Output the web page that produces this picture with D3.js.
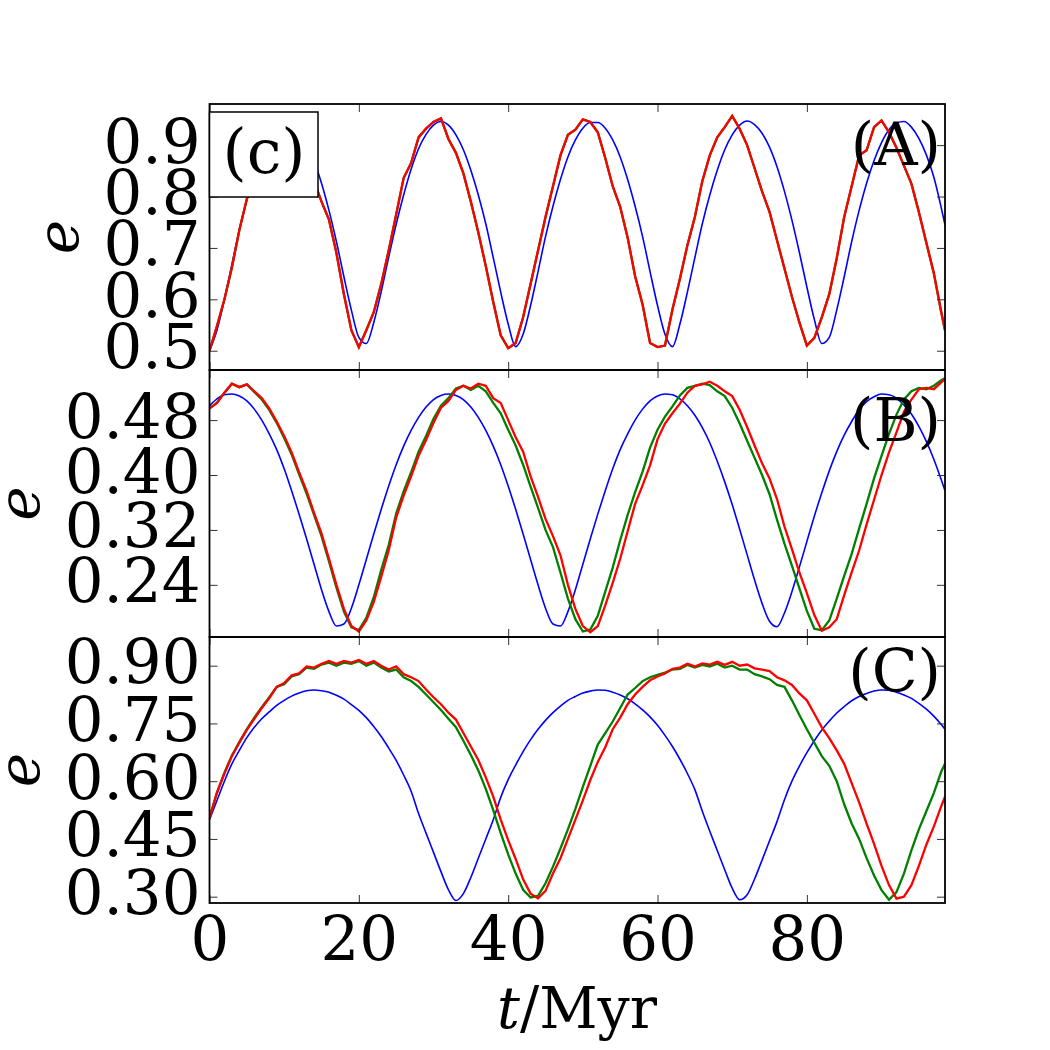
<!DOCTYPE html>
<html>
<head>
<meta charset="utf-8">
<script src="https://cdn.jsdelivr.net/npm/d3@7"></script>
<style>
  body { margin: 0; background: #fff; }
  svg { display: block; }
  text { font-family: "DejaVu Serif", serif; fill: #000; }
</style>
</head>
<body>
<svg id="chart" width="1050" height="1050"></svg>
<script>
// sampling grid (Myr) shared by every series
const timeMyr = d3.range(0, 99).concat([98.5]);
const xTicks = [0, 20, 40, 60, 80];

// panel (A)
const ticksA = [0.5, 0.6, 0.7, 0.8, 0.9];
const blueA = [
  0.500,0.540,0.600,0.668,0.735,0.793,0.843,0.885,0.916,0.937,
  0.946,0.943,0.930,0.905,0.870,0.826,0.773,0.712,0.644,0.579,
  0.526,0.514,0.555,0.615,0.682,0.746,0.803,0.853,0.893,0.921,
  0.939,0.946,0.939,0.920,0.891,0.851,0.803,0.747,0.681,0.614,
  0.552,0.508,0.532,0.588,0.654,0.722,0.781,0.833,0.877,0.910,
  0.933,0.944,0.944,0.933,0.910,0.877,0.833,0.781,0.722,0.654,
  0.588,0.532,0.508,0.552,0.614,0.681,0.747,0.803,0.851,0.891,
  0.920,0.939,0.947,0.940,0.923,0.896,0.858,0.810,0.754,0.691,
  0.624,0.561,0.514,0.526,0.579,0.644,0.712,0.773,0.826,0.870,
  0.905,0.930,0.943,0.946,0.935,0.913,0.881,0.838,0.778,0.745];
const redA = [
  0.500,0.548,0.600,0.662,0.735,0.795,0.845,0.885,0.915,0.935,
  0.950,0.945,0.920,0.880,0.830,0.790,0.755,0.690,0.610,0.540,
  0.507,0.540,0.575,0.630,0.695,0.765,0.836,0.865,0.915,0.932,
  0.945,0.952,0.912,0.885,0.845,0.790,0.730,0.665,0.595,0.530,
  0.505,0.515,0.565,0.630,0.695,0.760,0.820,0.880,0.920,0.930,
  0.950,0.945,0.925,0.875,0.820,0.780,0.720,0.645,0.590,0.515,
  0.507,0.510,0.580,0.640,0.705,0.760,0.830,0.880,0.915,0.935,
  0.957,0.932,0.900,0.855,0.810,0.770,0.715,0.660,0.605,0.555,
  0.510,0.525,0.565,0.610,0.680,0.760,0.820,0.880,0.890,0.935,
  0.948,0.925,0.895,0.860,0.825,0.770,0.710,0.651,0.575,0.540];
// green lies under red in (A)
const greenA = redA;

// panel (B)
const ticksB = [0.24, 0.32, 0.40, 0.48];
const blueB = [
  0.501,0.511,0.517,0.518,0.515,0.508,0.496,0.480,0.460,0.437,
  0.409,0.377,0.343,0.307,0.270,0.233,0.201,0.180,0.183,0.206,
  0.240,0.277,0.314,0.350,0.384,0.415,0.442,0.465,0.484,0.499,
  0.510,0.516,0.518,0.516,0.510,0.499,0.484,0.465,0.442,0.415,
  0.384,0.350,0.314,0.277,0.240,0.206,0.183,0.180,0.201,0.233,
  0.270,0.307,0.343,0.377,0.409,0.437,0.460,0.480,0.496,0.508,
  0.515,0.518,0.517,0.511,0.501,0.487,0.469,0.447,0.420,0.390,
  0.357,0.321,0.284,0.247,0.213,0.187,0.179,0.199,0.230,0.266,
  0.303,0.340,0.374,0.406,0.434,0.458,0.478,0.495,0.507,0.514,
  0.518,0.517,0.512,0.502,0.489,0.471,0.449,0.423,0.393,0.377];
const greenB = [
  0.497,0.505,0.520,0.533,0.528,0.532,0.521,0.510,0.495,0.476,
  0.454,0.430,0.401,0.373,0.342,0.311,0.274,0.236,0.201,0.178,
  0.174,0.192,0.222,0.262,0.298,0.344,0.376,0.404,0.434,0.457,
  0.482,0.501,0.512,0.526,0.530,0.524,0.530,0.522,0.505,0.490,
  0.466,0.443,0.415,0.383,0.352,0.320,0.295,0.258,0.220,0.190,
  0.172,0.175,0.195,0.230,0.265,0.305,0.342,0.375,0.405,0.440,
  0.466,0.485,0.500,0.516,0.527,0.530,0.533,0.531,0.522,0.515,
  0.498,0.475,0.450,0.425,0.400,0.372,0.335,0.300,0.268,0.235,
  0.202,0.176,0.174,0.188,0.220,0.253,0.285,0.322,0.358,0.395,
  0.428,0.460,0.488,0.510,0.522,0.527,0.525,0.530,0.538,0.541];
const redB = [
  0.497,0.505,0.520,0.533,0.528,0.532,0.522,0.512,0.497,0.478,
  0.457,0.433,0.404,0.377,0.345,0.315,0.278,0.240,0.205,0.180,
  0.172,0.188,0.215,0.252,0.290,0.338,0.370,0.398,0.428,0.451,
  0.476,0.498,0.508,0.524,0.530,0.526,0.533,0.530,0.512,0.505,
  0.480,0.455,0.434,0.398,0.368,0.336,0.311,0.283,0.240,0.205,
  0.180,0.171,0.180,0.210,0.243,0.278,0.318,0.358,0.385,0.414,
  0.452,0.475,0.490,0.504,0.520,0.530,0.532,0.536,0.530,0.522,
  0.515,0.495,0.470,0.443,0.417,0.395,0.365,0.325,0.292,0.258,
  0.228,0.196,0.173,0.178,0.190,0.225,0.258,0.290,0.328,0.364,
  0.400,0.433,0.462,0.492,0.510,0.525,0.527,0.525,0.535,0.540];

// panel (C)
const ticksC = [0.30, 0.45, 0.60, 0.75, 0.90];
const blueC = [
  0.500,0.550,0.600,0.645,0.680,0.713,0.740,0.762,0.780,0.797,
  0.810,0.821,0.829,0.835,0.837,0.835,0.831,0.823,0.813,0.799,
  0.784,0.765,0.742,0.716,0.686,0.654,0.616,0.574,0.516,0.465,
  0.415,0.365,0.318,0.290,0.308,0.350,0.400,0.450,0.500,0.558,
  0.604,0.642,0.677,0.708,0.735,0.758,0.778,0.795,0.810,0.820,
  0.829,0.834,0.837,0.836,0.831,0.824,0.814,0.801,0.785,0.767,
  0.745,0.719,0.690,0.657,0.620,0.578,0.522,0.470,0.420,0.370,
  0.322,0.292,0.305,0.346,0.395,0.445,0.495,0.552,0.600,0.639,
  0.674,0.705,0.733,0.756,0.777,0.794,0.809,0.820,0.828,0.834,
  0.837,0.836,0.831,0.824,0.815,0.802,0.787,0.769,0.747,0.735];
const greenC = [
  0.505,0.570,0.622,0.667,0.702,0.735,0.765,0.792,0.818,0.845,
  0.852,0.872,0.878,0.895,0.892,0.903,0.908,0.900,0.908,0.905,
  0.912,0.900,0.908,0.895,0.885,0.890,0.870,0.860,0.845,0.825,
  0.805,0.785,0.762,0.740,0.705,0.668,0.628,0.580,0.525,0.465,
  0.410,0.360,0.318,0.298,0.302,0.335,0.378,0.425,0.475,0.528,
  0.585,0.640,0.695,0.725,0.755,0.790,0.825,0.842,0.860,0.870,
  0.876,0.882,0.890,0.892,0.902,0.895,0.902,0.898,0.905,0.895,
  0.900,0.890,0.890,0.878,0.872,0.865,0.850,0.845,0.810,0.772,
  0.735,0.700,0.665,0.640,0.600,0.540,0.490,0.450,0.400,0.355,
  0.317,0.292,0.312,0.360,0.420,0.475,0.522,0.569,0.625,0.645];
const redC = [
  0.505,0.570,0.620,0.665,0.700,0.733,0.762,0.790,0.815,0.845,
  0.855,0.875,0.880,0.898,0.895,0.905,0.912,0.905,0.912,0.908,
  0.915,0.905,0.912,0.900,0.890,0.898,0.878,0.870,0.860,0.838,
  0.818,0.800,0.778,0.760,0.725,0.690,0.655,0.610,0.560,0.500,
  0.447,0.398,0.345,0.308,0.296,0.315,0.360,0.400,0.450,0.500,
  0.550,0.603,0.650,0.688,0.735,0.765,0.800,0.825,0.845,0.862,
  0.872,0.880,0.892,0.895,0.905,0.898,0.906,0.903,0.910,0.902,
  0.910,0.900,0.903,0.893,0.890,0.886,0.870,0.862,0.850,0.828,
  0.810,0.775,0.740,0.712,0.680,0.645,0.595,0.545,0.490,0.437,
  0.380,0.330,0.295,0.300,0.330,0.380,0.435,0.482,0.535,0.560];

const panels = [
  {label: "(A)", blue: blueA, green: greenA, red: redA, ticks: ticksA, domain: [0.4625, 0.980],
   fmt: d3.format(".1f"), top: 104, bottom: 370, labelY: 165, eX: 78},
  {label: "(B)", blue: blueB, green: greenB, red: redB, ticks: ticksB, domain: [0.164, 0.553],
   fmt: d3.format(".2f"), top: 370, bottom: 637, labelY: 441, eX: 39},
  {label: "(C)", blue: blueC, green: greenC, red: redC, ticks: ticksC, domain: [0.2836, 0.9745],
   fmt: d3.format(".2f"), top: 637, bottom: 903, labelY: 692, eX: 39}
];

const left = 209.5, right = 945;
const svg = d3.select("#chart");
const x = d3.scaleLinear().domain([0, 98.5]).range([left, right]);

panels.forEach((p, i) => {
  const y = d3.scaleLinear().domain(p.domain).range([p.bottom, p.top]);
  const g = svg.append("g");

  // clip lines to the axes box
  g.append("clipPath").attr("id", "clip" + i)
    .append("rect").attr("x", left).attr("y", p.top)
    .attr("width", right - left).attr("height", p.bottom - p.top);

  const line = d3.line().x((d, k) => x(timeMyr[k])).y(d => y(d));
  const lines = g.append("g").attr("clip-path", `url(#clip${i})`);
  lines.append("path").datum(p.blue).attr("d", line.curve(d3.curveMonotoneX))
    .attr("fill", "none").attr("stroke", "#0000ff").attr("stroke-width", 1.6);
  lines.append("path").datum(p.green).attr("d", line.curve(d3.curveLinear))
    .attr("fill", "none").attr("stroke", "#008000").attr("stroke-width", 2.3);
  lines.append("path").datum(p.red).attr("d", line.curve(d3.curveLinear))
    .attr("fill", "none").attr("stroke", "#ff0000").attr("stroke-width", 2.3);

  // inward ticks on all four sides
  const yLeft = g.append("g").attr("transform", `translate(${left},0)`)
    .call(d3.axisLeft(y).tickValues(p.ticks).tickSizeInner(-8).tickSizeOuter(0)
      .tickPadding(9).tickFormat(p.fmt));
  yLeft.selectAll("text").attr("dy", null).attr("y", 17)
    .style("font-family", "DejaVu Serif").style("font-size", "61px");
  g.append("g").attr("transform", `translate(${right},0)`)
    .call(d3.axisRight(y).tickValues(p.ticks).tickSizeInner(-8).tickSizeOuter(0).tickFormat(""));
  g.append("g").attr("transform", `translate(0,${p.top})`)
    .call(d3.axisTop(x).tickValues(xTicks).tickSizeInner(-8).tickSizeOuter(0).tickFormat(""));
  const xb = g.append("g").attr("transform", `translate(0,${p.bottom})`)
    .call(d3.axisBottom(x).tickValues(xTicks).tickSizeInner(-8).tickSizeOuter(0)
      .tickFormat(i === 2 ? d3.format("d") : ""));
  xb.selectAll("text").attr("dy", null).attr("y", 57)
    .style("font-family", "DejaVu Serif").style("font-size", "61px");
  g.selectAll(".domain").remove();
  g.selectAll(".tick line").attr("stroke", "#333").attr("stroke-width", 1);
  g.selectAll(".tick text").attr("fill", "#000");

  // frame
  g.append("rect").attr("x", left).attr("y", p.top)
    .attr("width", right - left).attr("height", p.bottom - p.top)
    .attr("fill", "none").attr("stroke", "#000").attr("stroke-width", 1.8);

  g.append("text").attr("x", 941).attr("y", p.labelY)
    .attr("text-anchor", "end").style("font-size", "60px").text(p.label);

  g.append("text")
    .attr("transform", `translate(${p.eX},${(p.top + p.bottom) / 2}) rotate(-90)`)
    .attr("text-anchor", "middle").style("font-size", "58px").style("font-style", "italic")
    .text("e");

  if (i === 0) {
    g.append("rect").attr("x", left).attr("y", 112).attr("width", 108.5).attr("height", 85)
      .attr("fill", "#fff").attr("stroke", "#000").attr("stroke-width", 1.5);
    g.append("text").attr("x", 264).attr("y", 173).attr("text-anchor", "middle")
      .style("font-size", "62px").text("(c)");
  }
});

const xl = svg.append("text").attr("x", 577).attr("y", 1028)
  .attr("text-anchor", "middle").style("font-size", "57px");
xl.append("tspan").style("font-style", "italic").text("t");
xl.append("tspan").text("/Myr");
</script>
</body>
</html>
